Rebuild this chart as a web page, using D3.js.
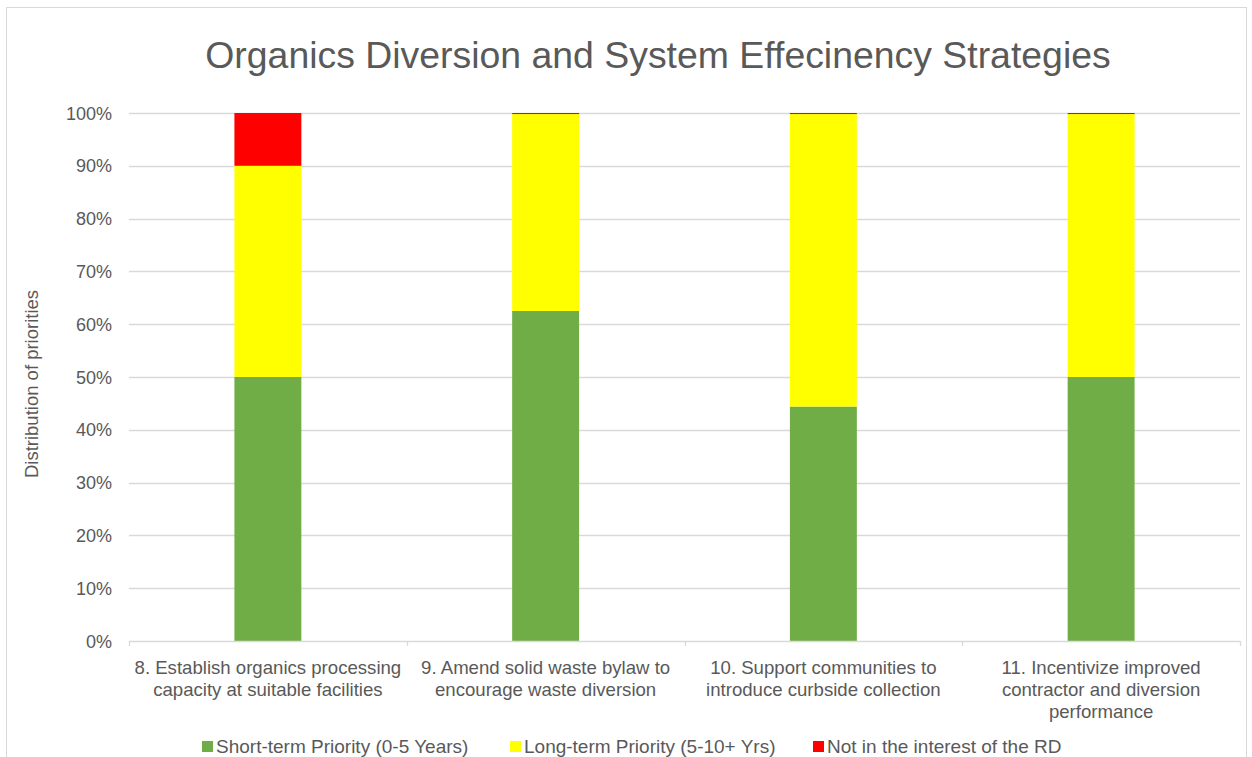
<!DOCTYPE html>
<html><head><meta charset="utf-8">
<script src="https://cdn.jsdelivr.net/npm/d3@7"></script>
<style>body{margin:0;background:#fff;}svg{display:block;font-family:"Liberation Sans",Arial,sans-serif;}</style>
</head><body>
<svg id="c" width="1252" height="757"></svg>
<script>
const categories = [
  ["8. Establish organics processing", "capacity at suitable facilities"],
  ["9. Amend solid waste bylaw to", "encourage waste diversion"],
  ["10. Support communities to", "introduce curbside collection"],
  ["11. Incentivize improved", "contractor and diversion", "performance"]
];
const seriesNames = ["Short-term Priority (0-5 Years)", "Long-term Priority (5-10+ Yrs)", "Not in the interest of the RD"];
const shortTerm = [50, 62.5, 44.4, 50];
const longTerm = [40, 37.3, 55.4, 49.8];
const notInterest = [10, 0.2, 0.2, 0.2];
const yTicks = [0, 10, 20, 30, 40, 50, 60, 70, 80, 90, 100];
const colors = ["#70ad47", "#ffff00", "#ff0000"];

const svg = d3.select("#c");
const W = 1252, H = 757;
// chart border
svg.append("rect").attr("x", 6.5).attr("y", 7.5).attr("width", W - 12).attr("height", H).attr("fill", "none").attr("stroke", "#d9d9d9");

const pL = 129, pR = 1240, pT = 113, pB = 641;
const x = d3.scaleBand().domain(d3.range(categories.length)).range([pL, pR]).paddingInner(0).paddingOuter(0);
const y = d3.scaleLinear().domain([0, 100]).range([pB, pT]);

// gridlines
svg.append("g").selectAll("line").data(yTicks.filter(d => d > 0)).join("line")
  .attr("x1", pL).attr("x2", pR).attr("y1", d => Math.round(y(d)) + 0.5).attr("y2", d => Math.round(y(d)) + 0.5)
  .attr("stroke", "#d9d9d9").attr("stroke-width", 1.3);

// y labels
svg.append("g").selectAll("text").data(yTicks).join("text")
  .attr("x", 112).attr("y", d => y(d) + 6.5).attr("text-anchor", "end")
  .attr("font-size", 18).attr("fill", "#595959").text(d => d + "%");

// stacked
const rows = categories.map((c, i) => ({i, s0: shortTerm[i], s1: longTerm[i], s2: notInterest[i]}));
const stack = d3.stack().keys(["s0", "s1", "s2"]).offset(d3.stackOffsetExpand);
const layers = stack(rows);
const bw = x.bandwidth() * 0.241;
layers.forEach((layer, k) => {
  svg.append("g").selectAll("rect").data(layer).join("rect")
    .attr("x", d => x(d.data.i) + x.bandwidth() / 2 - bw / 2)
    .attr("width", bw)
    .attr("y", d => y(d[1] * 100))
    .attr("height", d => y(d[0] * 100) - y(d[1] * 100))
    .attr("fill", colors[k]);
});

// x axis line and ticks
svg.append("line").attr("x1", pL).attr("x2", pR).attr("y1", pB + 0.5).attr("y2", pB + 0.5).attr("stroke", "#d9d9d9").attr("stroke-width", 1.3);
svg.append("g").selectAll("line").data(d3.range(categories.length + 1)).join("line")
  .attr("x1", d => Math.round(pL + d * x.bandwidth()) + 0.5).attr("x2", d => Math.round(pL + d * x.bandwidth()) + 0.5)
  .attr("y1", pB).attr("y2", pB + 5).attr("stroke", "#d9d9d9").attr("stroke-width", 1.3);

// category labels
categories.forEach((lines, i) => {
  const t = svg.append("text").attr("text-anchor", "middle").attr("font-size", 18.6).attr("fill", "#595959");
  lines.forEach((ln, j) => {
    t.append("tspan").attr("x", x(i) + x.bandwidth() / 2).attr("y", 674 + j * 22).text(ln);
  });
});

// title
svg.append("text").attr("x", 658).attr("y", 68).attr("text-anchor", "middle")
  .attr("font-size", 37.4).attr("fill", "#595959").text("Organics Diversion and System Effecinency Strategies");

// y axis title
svg.append("text").attr("transform", "translate(38,384) rotate(-90)").attr("text-anchor", "middle")
  .attr("font-size", 18.5).attr("fill", "#595959").text("Distribution of priorities");

// legend
const legX = [202, 510, 813];
seriesNames.forEach((n, k) => {
  svg.append("rect").attr("x", legX[k]).attr("y", 741).attr("width", 11).attr("height", 11).attr("fill", colors[k]);
  svg.append("text").attr("x", legX[k] + 14).attr("y", 753).attr("font-size", 19).attr("fill", "#595959").text(n);
});
</script>
</body></html>
